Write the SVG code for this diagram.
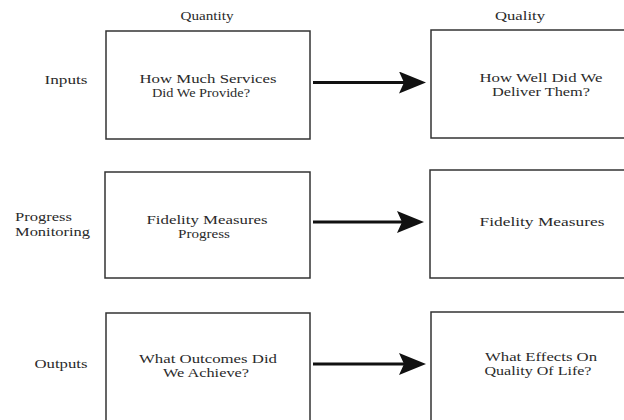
<svg xmlns="http://www.w3.org/2000/svg" width="624" height="420" viewBox="0 0 624 420">
<style>
.box{fill:#fff;stroke:#333;stroke-width:1.5}
.t{font-family:"Liberation Serif","Times New Roman",serif;font-size:12px;fill:#2a2a2a;text-anchor:middle}
.l{font-family:"Liberation Serif","Times New Roman",serif;font-size:12px;fill:#2a2a2a}
.c{stroke:#111;stroke-width:3;fill:none}
</style>
<defs>
<marker id="ah" markerUnits="userSpaceOnUse" markerWidth="28" markerHeight="22" refX="7" refY="11" orient="auto">
<path d="M0,0 L27,11 L0,22 L5,11 z" fill="#111"/>
</marker>
</defs>
<rect width="624" height="420" fill="#fff"/>
<g id="headers">
<text class="t" x="207" y="20" textLength="53" lengthAdjust="spacingAndGlyphs">Quantity</text>
<text class="t" x="520" y="20" textLength="50" lengthAdjust="spacingAndGlyphs">Quality</text>
</g>
<g id="row-labels">
<text class="t" x="66" y="84" textLength="43" lengthAdjust="spacingAndGlyphs">Inputs</text>
<text class="l" x="15" y="221" textLength="57" lengthAdjust="spacingAndGlyphs">Progress</text>
<text class="l" x="15" y="236" textLength="75" lengthAdjust="spacingAndGlyphs">Monitoring</text>
<text class="t" x="61" y="368" textLength="53" lengthAdjust="spacingAndGlyphs">Outputs</text>
</g>
<g id="n1">
<rect class="box" x="106" y="31" width="204" height="108"/>
<text class="t" x="208" y="83" textLength="137" lengthAdjust="spacingAndGlyphs">How Much Services</text>
<text class="t" x="201" y="97" textLength="98" lengthAdjust="spacingAndGlyphs">Did We Provide?</text>
</g>
<g id="n2">
<rect class="box" x="431" y="30" width="240" height="108"/>
<text class="t" x="541" y="82" textLength="123" lengthAdjust="spacingAndGlyphs">How Well Did We</text>
<text class="t" x="541" y="96" textLength="98" lengthAdjust="spacingAndGlyphs">Deliver Them?</text>
</g>
<g id="n3">
<rect class="box" x="105" y="172" width="205" height="106"/>
<text class="t" x="207" y="224" textLength="121" lengthAdjust="spacingAndGlyphs">Fidelity Measures</text>
<text class="t" x="204" y="238" textLength="52" lengthAdjust="spacingAndGlyphs">Progress</text>
</g>
<g id="n4">
<rect class="box" x="430" y="170" width="240" height="108"/>
<text class="t" x="542" y="226" textLength="125" lengthAdjust="spacingAndGlyphs">Fidelity Measures</text>
</g>
<g id="n5">
<rect class="box" x="106" y="313" width="204" height="130"/>
<text class="t" x="208" y="363" textLength="138" lengthAdjust="spacingAndGlyphs">What Outcomes Did</text>
<text class="t" x="206" y="377" textLength="86" lengthAdjust="spacingAndGlyphs">We Achieve?</text>
</g>
<g id="n6">
<rect class="box" x="431" y="312" width="240" height="130"/>
<text class="t" x="541" y="361" textLength="112" lengthAdjust="spacingAndGlyphs">What Effects On</text>
<text class="t" x="538" y="375" textLength="107" lengthAdjust="spacingAndGlyphs">Quality Of Life?</text>
</g>
<g id="connectors">
<line class="c" x1="313" y1="82.5" x2="406" y2="82.5" marker-end="url(#ah)"/>
<line class="c" x1="313" y1="222" x2="404" y2="222" marker-end="url(#ah)"/>
<line class="c" x1="313" y1="364" x2="406" y2="364" marker-end="url(#ah)"/>
</g>
</svg>
